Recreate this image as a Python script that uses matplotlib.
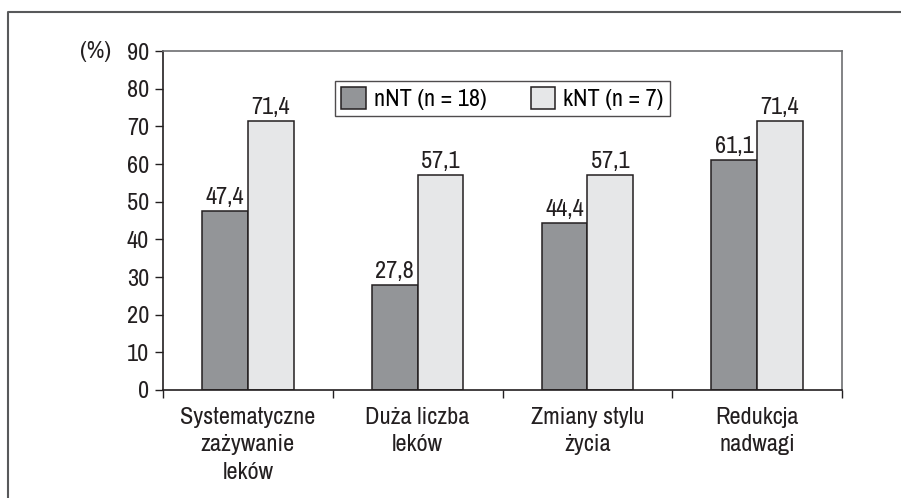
import matplotlib
matplotlib.use("Agg")
import matplotlib.pyplot as plt
from matplotlib import font_manager
from matplotlib.lines import Line2D
import numpy as np

# szukamy wąskiego fontu (oryginał: krój "condensed")
names = sorted({f.name for f in font_manager.fontManager.ttflist})
narrow = [n for n in names if "Narrow" in n or "Condensed" in n]
plt.rcParams["font.family"] = narrow[:1] + ["DejaVu Sans"]
if not narrow:
    plt.rcParams["font.stretch"] = "condensed"

# ====================== dane ======================
categories = ["Systematyczne\nzażywanie\nleków", "Duża liczba\nleków",
              "Zmiany stylu\nżycia", "Redukcja\nnadwagi"]
nnt = [47.4, 27.8, 44.4, 61.1]
knt = [71.4, 57.1, 57.1, 71.4]
labels = ["nNT (n = 18)", "kNT (n = 7)"]
yticks = [0, 10, 20, 30, 40, 50, 60, 70, 80, 90]
# ===================================================

FS = 17.5
W, H = 901, 498
fig = plt.figure(figsize=(W / 100, H / 100), dpi=100)
ax = fig.add_axes([163 / W, 1 - 390 / H, (842 - 163) / W, (390 - 51) / H])

x = np.arange(len(categories))
bw = 0.27
b1 = ax.bar(x - bw / 2, nnt, bw, color="#939598", edgecolor="#231f20", linewidth=1.1, label=labels[0])
b2 = ax.bar(x + bw / 2, knt, bw, color="#e6e7e8", edgecolor="#231f20", linewidth=1.1, label=labels[1])

for bars in (b1, b2):
    for r in bars:
        ax.text(r.get_x() + r.get_width() / 2, r.get_height() + 0.8,
                f"{r.get_height():.1f}".replace(".", ","),
                ha="center", va="bottom", fontsize=FS, color="#231f20")

ax.set_xlim(-0.5, len(categories) - 0.5)
ax.set_ylim(0, 90)
ax.set_yticks(yticks)
ax.set_xticks(np.arange(len(categories) + 1) - 0.5)
ax.set_xticklabels([])
ax.set_xticks(x, minor=True)
ax.set_xticklabels(categories, minor=True, fontsize=FS, color="#231f20", linespacing=1.38)
ax.tick_params(axis="x", which="minor", length=0, pad=12)
ax.tick_params(axis="x", which="major", length=6, width=1, color="#231f20", direction="out")
ax.tick_params(axis="y", length=6, width=1, color="#231f20", labelsize=FS, labelcolor="#231f20", pad=4)

for side in ("top", "right"):
    ax.spines[side].set_color("#6d6e71")
    ax.spines[side].set_linewidth(1.2)
for side in ("left", "bottom"):
    ax.spines[side].set_color("#231f20")
    ax.spines[side].set_linewidth(1.2)

fig.text(80 / W, 1 - 52 / H, "(%)", fontsize=FS, color="#231f20", va="center", ha="left")

leg = ax.legend(loc="upper center", bbox_to_anchor=(0.5, 0.948), ncol=2, fontsize=FS,
                frameon=True, fancybox=False, edgecolor="#231f20", handlelength=1.0,
                handleheight=1.0, columnspacing=1.8, borderpad=0.25, handletextpad=0.35)
leg.get_frame().set_linewidth(1.0)

# ramka zewnętrzna
fig.add_artist(Line2D([8 / W, 8 / W, 1.0], [0.0, 1 - 12 / H, 1 - 12 / H],
                      transform=fig.transFigure, color="#58595b", linewidth=1.5))

fig.savefig("out.png", dpi=100)
